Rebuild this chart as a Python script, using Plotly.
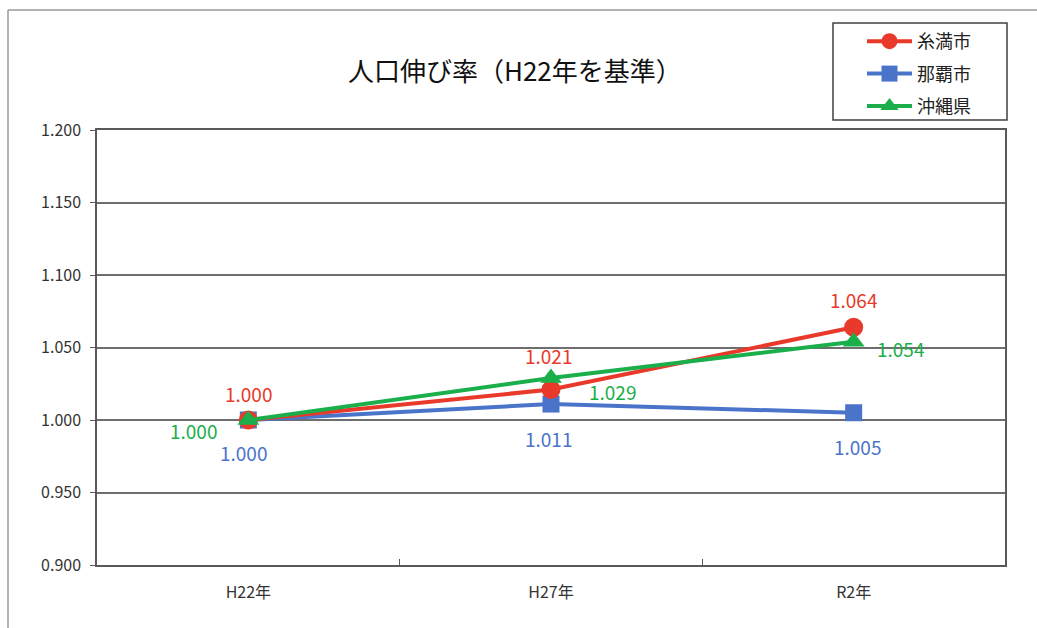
import plotly.graph_objects as go

categories = ["H22年", "H27年", "R2年"]
itoman = [1.000, 1.021, 1.064]
naha = [1.000, 1.011, 1.005]
okinawa = [1.000, 1.029, 1.054]
y_ticks = [0.90, 0.95, 1.00, 1.05, 1.10, 1.15, 1.20]
title_text = "人口伸び率（H22年を基準）"

FONT = "Noto Sans CJK JP"
RED = "#E8392B"
BLUE = "#4A74C9"
GREEN = "#1AAF4B"

# plot area in pixels
L, R, T, B = 97, 1005, 130, 565
W, H = 1037, 628

def px(x):
    return (x - L) / (R - L)

def py(y):
    return (B - y) / (B - T)

series = [
    ("糸満市", itoman, RED, "circle", 19,
     [(0, 27), (-3, 34), (0, 28)]),
    ("那覇市", naha, BLUE, "square", 17,
     [(-5, -32), (-3, -34), (4, -34)]),
    ("沖縄県", okinawa, GREEN, "triangle-up", 19,
     [(-55, -10), (61, -14), (47, -7)]),
]

fig = go.Figure()
annotations = []

for k, (name, vals, color, sym, msize, offs) in enumerate(series):
    fig.add_trace(go.Scatter(
        x=categories, y=vals, name=name, mode="lines+markers",
        line=dict(color=color, width=4),
        marker=dict(symbol=sym, size=msize, color=color),
        legendgroup=name, legendrank=k + 1,
    ))
    for c, v, (dx, dy) in zip(categories, vals, offs):
        annotations.append(dict(
            x=c, y=v, xref="x", yref="y", text=f"{v:.3f}", showarrow=False,
            xanchor="center", yanchor="middle", xshift=dx, yshift=dy,
            font=dict(family=FONT, size=19, color=color),
        ))

# draw blue first, then red, then green
fig.data = (fig.data[1], fig.data[0], fig.data[2])

annotations.append(dict(
    x=px(515), y=py(70), xref="paper", yref="paper", text=title_text,
    showarrow=False, xanchor="center", yanchor="middle",
    font=dict(family=FONT, size=26, color="#111111"),
))

shapes = [
    dict(type="line", xref="paper", yref="paper", x0=px(8), x1=px(1040), y0=py(10), y1=py(10),
         line=dict(color="#9a9a9a", width=1.5)),
    dict(type="line", xref="paper", yref="paper", x0=px(8), x1=px(8), y0=py(10), y1=py(640),
         line=dict(color="#9a9a9a", width=1.5)),
    # legend frame
    dict(type="rect", xref="paper", yref="paper", x0=px(833), x1=px(1007), y0=py(23), y1=py(120),
         line=dict(color="#404040", width=1.5), fillcolor="rgba(0,0,0,0)", layer="above"),
]

fig.update_layout(
    width=W, height=H,
    margin=dict(l=L, r=W - R, t=T, b=H - B),
    paper_bgcolor="white", plot_bgcolor="white",
    font=dict(family=FONT, color="#333333"),
    showlegend=True,
    legend=dict(
        x=px(862), y=py(23), xanchor="left", yanchor="top",
        borderwidth=0, bgcolor="rgba(0,0,0,0)",
        font=dict(family=FONT, size=18, color="#222222"),
        tracegroupgap=6, itemwidth=45, traceorder="grouped",
    ),
    xaxis=dict(
        type="category", showgrid=False, showline=True, linecolor="#595959", linewidth=1.5,
        mirror=True, ticks="inside", tickson="boundaries", ticklen=6, tickcolor="#595959",
        tickfont=dict(family=FONT, size=16, color="#333333"), range=[-0.5, 2.5],
        ticklabelstandoff=12,
    ),
    yaxis=dict(
        range=[0.9, 1.2], tickvals=y_ticks, tickformat=".3f",
        showgrid=True, gridcolor="#6e6e6e", gridwidth=1.5,
        showline=True, linecolor="#595959", linewidth=1.5, mirror=True,
        ticks="outside", ticklen=5, tickcolor="#595959",
        tickfont=dict(family=FONT, size=16, color="#333333"), zeroline=False,
        ticklabelstandoff=6,
    ),
    annotations=annotations, shapes=shapes,
)

fig.write_html("out.html")
